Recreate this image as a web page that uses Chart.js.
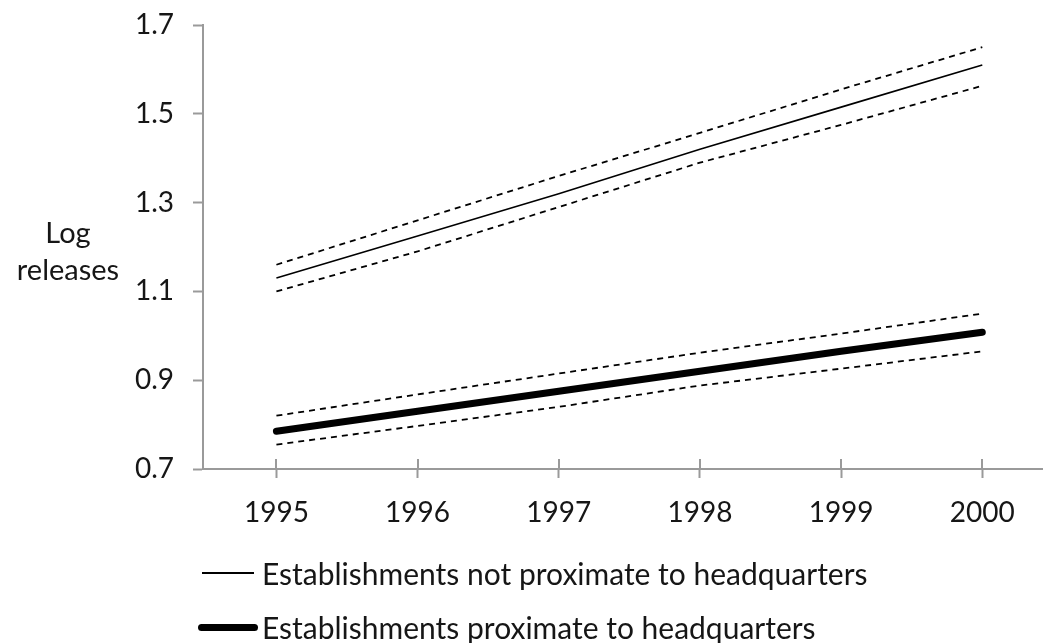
<!DOCTYPE html>
<html lang="en">
<head>
    <meta charset="UTF-8">
    <title>Log releases by proximity to headquarters</title>
    <script src="https://cdn.jsdelivr.net/npm/chart.js"></script>
    <style>
        body {
            margin: 0;
            padding: 0;
            background: #fff;
            font-family: 'Lato', sans-serif;
            color: #161616;
        }
        .wrap {
            position: relative;
            width: 1043px;
            height: 643px;
        }
        #chart {
            position: absolute;
            left: 0;
            top: 0;
        }
        .ytitle {
            position: absolute;
            left: 10px;
            top: 213px;
            width: 116px;
            text-align: center;
            font-size: 29px;
            line-height: 37px;
        }
        .legend-item {
            position: absolute;
            left: 0;
            height: 40px;
            font-size: 30px;
            line-height: 40px;
            white-space: nowrap;
        }
        .legend-item .swatch {
            position: absolute;
            background: #000;
        }
        .legend-item span.label {
            position: absolute;
            left: 262px;
            top: 0;
        }
    </style>
</head>
<body>
<div class="wrap">
    <canvas id="chart" width="1043" height="643"></canvas>
    <div class="ytitle">Log<br>releases</div>
    <div class="legend-item" style="top:553px;">
        <div class="swatch" style="left:202px; top:19px; width:52px; height:1.5px;"></div>
        <span class="label">Establishments not proximate to headquarters</span>
    </div>
    <div class="legend-item" style="top:607px;">
        <div class="swatch" style="left:198px; top:17px; width:60px; height:7px; border-radius:4px;"></div>
        <span class="label">Establishments proximate to headquarters</span>
    </div>
</div>

<script>
    // years on the x axis
    const years = [1995, 1996, 1997, 1998, 1999, 2000];

    // establishments not proximate to headquarters
    const notProxFit   = [1.13, 1.225, 1.32, 1.42, 1.515, 1.61];
    const notProxUpper = [1.16, 1.26, 1.36, 1.457, 1.555, 1.65];
    const notProxLower = [1.10, 1.19, 1.29, 1.39, 1.475, 1.563];

    // establishments proximate to headquarters
    const proxFit   = [0.785, 0.83, 0.875, 0.92, 0.965, 1.008];
    const proxUpper = [0.82, 0.868, 0.915, 0.962, 1.005, 1.05];
    const proxLower = [0.755, 0.797, 0.84, 0.888, 0.926, 0.965];

    const yTicks = [0.7, 0.9, 1.1, 1.3, 1.5, 1.7];

    function pts(values) {
        return years.map((yr, i) => ({ x: yr, y: values[i] }));
    }

    function dashed(values) {
        return {
            data: pts(values),
            borderColor: '#000',
            borderWidth: 1.8,
            borderDash: [6, 5],
            pointRadius: 0,
            fill: false
        };
    }

    // inner half of the x tick marks (Excel draws them across the axis)
    const crossTicks = {
        id: 'crossTicks',
        afterDraw(chart) {
            const ctx = chart.ctx;
            const xs = chart.scales.x;
            const bottom = chart.chartArea.bottom;
            ctx.save();
            ctx.strokeStyle = '#9a9a9a';
            ctx.lineWidth = 2;
            years.forEach(yr => {
                const px = Math.round(xs.getPixelForValue(yr));
                ctx.beginPath();
                ctx.moveTo(px, bottom);
                ctx.lineTo(px, bottom - 10);
                ctx.stroke();
            });
            ctx.restore();
        }
    };

    const axisFont = { family: 'Lato', size: 28 };

    new Chart(document.getElementById('chart').getContext('2d'), {
        type: 'line',
        data: {
            datasets: [
                dashed(notProxUpper),
                dashed(notProxLower),
                {
                    data: pts(notProxFit),
                    borderColor: '#000',
                    borderWidth: 1.6,
                    pointRadius: 0,
                    fill: false
                },
                dashed(proxUpper),
                dashed(proxLower),
                {
                    data: pts(proxFit),
                    borderColor: '#000',
                    borderWidth: 7,
                    borderCapStyle: 'round',
                    pointRadius: 0,
                    fill: false
                }
            ]
        },
        options: {
            responsive: false,
            animation: false,
            layout: {
                padding: { left: 0, right: 0, top: 25, bottom: 114 }
            },
            plugins: {
                legend: { display: false },
                tooltip: { enabled: false }
            },
            scales: {
                x: {
                    type: 'linear',
                    min: 1994.48,
                    max: 2000.43,
                    afterBuildTicks: scale => {
                        scale.ticks = years.map(v => ({ value: v }));
                    },
                    afterFit: scale => {
                        scale.height = 60;
                        scale.paddingLeft = 0;
                        scale.paddingRight = 0;
                    },
                    ticks: {
                        font: axisFont,
                        color: '#161616',
                        padding: 18,
                        callback: v => String(v)
                    },
                    grid: {
                        drawOnChartArea: false,
                        tickLength: 9,
                        tickColor: '#9a9a9a',
                        tickWidth: 2
                    },
                    border: { color: '#9a9a9a', width: 2 }
                },
                y: {
                    min: 0.7,
                    max: 1.7,
                    afterBuildTicks: scale => {
                        scale.ticks = yTicks.map(v => ({ value: v }));
                    },
                    afterFit: scale => {
                        scale.width = 203;
                        scale.paddingTop = 0;
                        scale.paddingBottom = 0;
                    },
                    ticks: {
                        font: axisFont,
                        color: '#161616',
                        padding: 19,
                        callback: v => v.toFixed(1)
                    },
                    grid: {
                        drawOnChartArea: false,
                        tickLength: 10,
                        tickColor: '#9a9a9a',
                        tickWidth: 2
                    },
                    border: { color: '#9a9a9a', width: 2 }
                }
            }
        },
        plugins: [crossTicks]
    });
</script>
</body>
</html>
